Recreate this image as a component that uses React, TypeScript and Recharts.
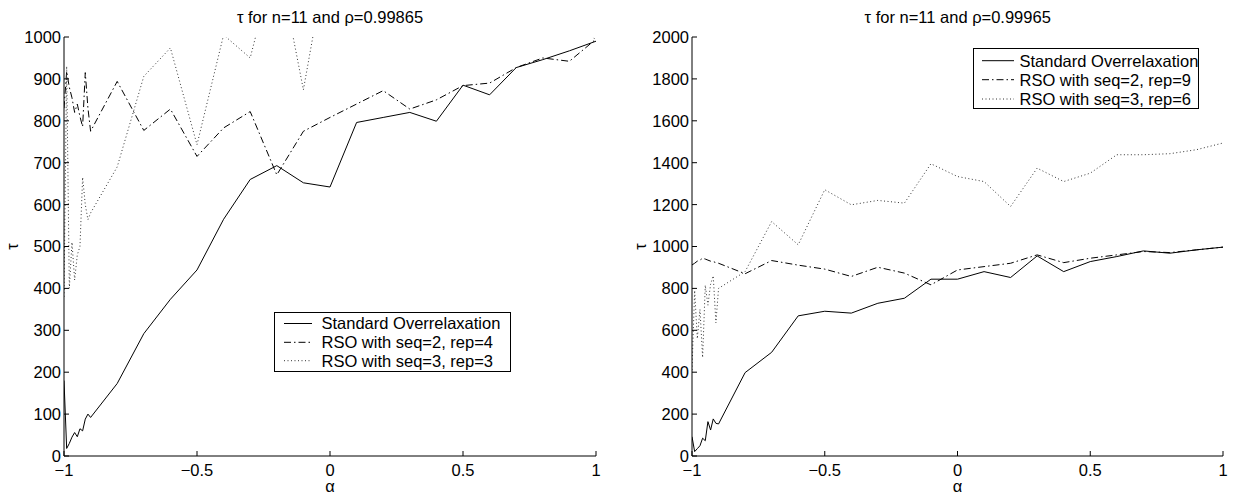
import React from 'react';
import { LineChart, Line, XAxis, YAxis, Legend, Label } from 'recharts';

// Relaxation parameter alpha: fine steps near -1, then steps of 0.1
const alpha = [
  -1, -0.99, -0.98, -0.97, -0.96, -0.95, -0.94, -0.93, -0.92, -0.91, -0.9,
  -0.8, -0.7, -0.6, -0.5, -0.4, -0.3, -0.2, -0.1, 0, 0.1, 0.2, 0.3, 0.4, 0.5,
  0.6, 0.7, 0.8, 0.9, 1,
];

// Panel 1: rho = 0.99865
const stdA = [
  180, 18, 30, 45, 56, 46, 65, 60, 88, 100, 92,
  173, 292, 374, 444, 565, 660, 693, 652, 642, 796, 808, 820, 799, 885,
  862, 927, 946, 967, 990,
];
const seq2A = [
  830, 918, 880, 855, 820, 840, 810, 786, 915, 830, 775,
  894, 777, 828, 715, 783, 822, 671, 775, 808, 840, 872, 828, 850, 884,
  890, 927, 950, 942, 995,
];
const seq3A = [
  380, 930, 400, 510, 420, 480, 500, 665, 600, 564, 580,
  690, 906, 974, 743, 1005, 950, 1200, 874, 1230, 1250, 1280, 1260, 1300, 1290,
  1320, 1310, 1300, 1060, 992,
];

// Panel 2: rho = 0.99965
const stdB = [
  92, 21, 35, 49, 85, 73, 164, 124, 177, 156, 153,
  398, 495, 669, 691, 682, 729, 753, 844, 844, 880, 852, 955, 880, 928,
  952, 979, 968, 984, 997,
];
const seq2B = [
  912, 920, 930, 935, 944, 940, 935, 930, 928, 923, 920,
  870, 933, 911, 892, 857, 901, 873, 817, 888, 904, 920, 960, 923, 944,
  960, 976, 971, 984, 997,
];
const seq3B = [
  410, 790, 560, 700, 470, 815, 720, 820, 860, 635, 800,
  880, 1119, 1008, 1271, 1199, 1220, 1207, 1395, 1334, 1310, 1191, 1374, 1310, 1350,
  1438, 1438, 1443, 1462, 1494,
];

const xTicks = [-1, -0.5, 0, 0.5, 1];
const yTicksA = [0, 100, 200, 300, 400, 500, 600, 700, 800, 900, 1000];
const yTicksB = [0, 200, 400, 600, 800, 1000, 1200, 1400, 1600, 1800, 2000];

const namesA = ['Standard Overrelaxation', 'RSO with seq=2, rep=4', 'RSO with seq=3, rep=3'];
const namesB = ['Standard Overrelaxation', 'RSO with seq=2, rep=9', 'RSO with seq=3, rep=6'];
const titleA = 'τ for n=11 and ρ=0.99865';
const titleB = 'τ for n=11 and ρ=0.99965';

const FONT = '"Liberation Sans", Arial, Helvetica, sans-serif';
const FS = 16.5;
const DASH_DOT = '7 3 1.5 3';
const DOTTED = '1 2.5';
const styles = [
  { key: 'std', dash: undefined as string | undefined, color: '#000' },
  { key: 'seq2', dash: DASH_DOT, color: '#000' },
  { key: 'seq3', dash: DOTTED, color: '#333' },
];

const fmt = (v: number) => (v < 0 ? '\u2212' + String(-v) : String(v));

const XTick = (props: any) => {
  const { x, y, payload } = props;
  return (
    <g>
      <line x1={x} x2={x} y1={y} y2={y - 5} stroke="#000" strokeWidth={1} />
      <text x={x} y={y + 19.5} textAnchor="middle" fontFamily={FONT} fontSize={FS} fill="#000">
        {fmt(payload.value)}
      </text>
    </g>
  );
};

const YTick = (props: any) => {
  const { x, y, payload } = props;
  return (
    <g>
      <line x1={x + 3} x2={x + 8} y1={y} y2={y} stroke="#000" strokeWidth={1} />
      <text x={x} y={y} dy="0.36em" textAnchor="end" fontFamily={FONT} fontSize={FS} fill="#000">
        {payload.value}
      </text>
    </g>
  );
};

const XLabel = (props: any) => {
  const vb = props.viewBox || {};
  return (
    <text x={vb.x + vb.width / 2} y={vb.y + 36} textAnchor="middle" fontFamily={FONT} fontSize={FS} fill="#000">
      α
    </text>
  );
};

const YLabel = (props: any) => {
  const vb = props.viewBox || {};
  const cx = vb.x + vb.width - 51;
  const cy = vb.y + vb.height / 2;
  return (
    <text
      x={cx}
      y={cy}
      dy="0.3em"
      textAnchor="middle"
      transform={`rotate(-90, ${cx}, ${cy})`}
      fontFamily={FONT}
      fontSize={FS}
      fill="#000"
    >
      τ
    </text>
  );
};

type BoxSpec = { w: number; h: number; rows: number[]; s1: number; s2: number; tx: number };

const LegendBox = ({ spec, names }: { spec: BoxSpec; names: string[] }) => (
  <svg width={spec.w} height={spec.h} style={{ display: 'block' }}>
    <rect x={0.5} y={0.5} width={spec.w - 1} height={spec.h - 1} fill="#fff" stroke="#000" strokeWidth={1} />
    {names.map((n, i) => (
      <g key={n}>
        <line
          x1={spec.s1}
          x2={spec.s2}
          y1={spec.rows[i]}
          y2={spec.rows[i]}
          stroke={styles[i].color}
          strokeWidth={1}
          strokeDasharray={styles[i].dash}
        />
        <text x={spec.tx} y={spec.rows[i]} dy="0.36em" fontFamily={FONT} fontSize={FS} fill="#000">
          {n}
        </text>
      </g>
    ))}
  </svg>
);

type PanelProps = {
  width: number;
  marginRight: number;
  yAxisWidth: number;
  yMax: number;
  yTicks: number[];
  std: number[];
  seq2: number[];
  seq3: number[];
  names: string[];
  legendLeft: number;
  legendTop: number;
  box: BoxSpec;
};

const Panel = (p: PanelProps) => {
  const rows = alpha.map((a, i) => ({ alpha: a, std: p.std[i], seq2: p.seq2[i], seq3: p.seq3[i] }));
  return (
    <LineChart width={p.width} height={496} data={rows} margin={{ top: 37, right: p.marginRight, bottom: 0, left: 0 }}>
      <XAxis
        dataKey="alpha"
        type="number"
        domain={[-1, 1]}
        ticks={xTicks}
        interval={0}
        allowDataOverflow
        height={40}
        tickSize={0}
        tickMargin={0}
        tickLine={false}
        tick={<XTick />}
        axisLine={{ stroke: '#000', strokeWidth: 1 }}
      >
        <Label content={<XLabel />} />
      </XAxis>
      <YAxis
        type="number"
        domain={[0, p.yMax]}
        ticks={p.yTicks}
        interval={0}
        allowDataOverflow
        width={p.yAxisWidth}
        tickSize={0}
        tickMargin={3}
        tickLine={false}
        tick={<YTick />}
        axisLine={{ stroke: '#000', strokeWidth: 1 }}
      >
        <Label content={<YLabel />} />
      </YAxis>
      {styles.map((s, i) => (
        <Line
          key={s.key}
          dataKey={s.key}
          name={p.names[i]}
          type="linear"
          stroke={s.color}
          strokeWidth={1}
          strokeDasharray={s.dash}
          dot={false}
          activeDot={false}
          isAnimationActive={false}
        />
      ))}
      <Legend
        layout="vertical"
        align="center"
        verticalAlign="middle"
        wrapperStyle={{ left: p.legendLeft, top: p.legendTop, width: p.box.w, height: p.box.h }}
        content={() => <LegendBox spec={p.box} names={p.names} />}
      />
    </LineChart>
  );
};

export default function App() {
  return (
    <div style={{ position: 'absolute', left: 0, top: 0, width: 1237, height: 496, background: '#fff' }}>
      <div style={{ position: 'absolute', left: 0, top: 0 }}>
        <Panel
          width={620}
          marginRight={24}
          yAxisWidth={64}
          yMax={1000}
          yTicks={yTicksA}
          std={stdA}
          seq2={seq2A}
          seq3={seq3A}
          names={namesA}
          legendLeft={274}
          legendTop={312}
          box={{ w: 237, h: 60, rows: [11.5, 30.3, 48.7], s1: 10, s2: 38, tx: 47.5 }}
        />
      </div>
      <div style={{ position: 'absolute', left: 620, top: 0 }}>
        <Panel
          width={617}
          marginRight={14}
          yAxisWidth={72}
          yMax={2000}
          yTicks={yTicksB}
          std={stdB}
          seq2={seq2B}
          seq3={seq3B}
          names={namesB}
          legendLeft={353}
          legendTop={48}
          box={{ w: 226, h: 61, rows: [12.7, 31.7, 51], s1: 9, s2: 41, tx: 46.5 }}
        />
      </div>
      <svg
        width={1237}
        height={40}
        style={{ position: 'absolute', left: 0, top: 0, pointerEvents: 'none' }}
      >
        <text x={330} y={23} textAnchor="middle" fontFamily={FONT} fontSize={FS} fill="#000">
          {titleA}
        </text>
        <text x={957.7} y={23} textAnchor="middle" fontFamily={FONT} fontSize={FS} fill="#000">
          {titleB}
        </text>
      </svg>
    </div>
  );
}
